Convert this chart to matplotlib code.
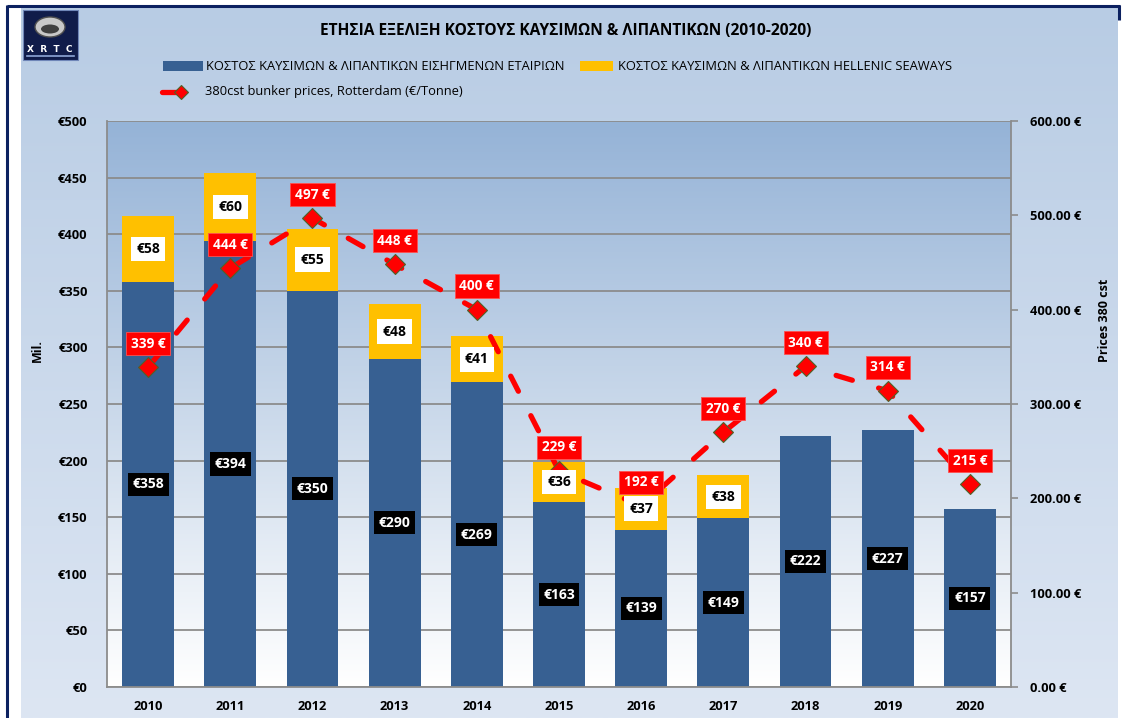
import matplotlib
matplotlib.use("Agg")
import matplotlib.pyplot as plt
import numpy as np
from matplotlib.patches import Rectangle, Ellipse
from matplotlib.lines import Line2D
from matplotlib.colors import LinearSegmentedColormap
from matplotlib.ticker import FuncFormatter, MultipleLocator

plt.rcParams["font.family"] = ["Open Sans", "DejaVu Sans"]

YEARS    = ["2010", "2011", "2012", "2013", "2014", "2015", "2016", "2017", "2018", "2019", "2020"]
LISTED   = [358, 394, 350, 290, 269, 163, 139, 149, 222, 227, 157]   # € mil., listed companies
HELLENIC = [58, 60, 55, 48, 41, 36, 37, 38, 0, 0, 0]                 # € mil., Hellenic Seaways
BUNKER   = [339, 444, 497, 448, 400, 229, 192, 270, 340, 314, 215]   # €/tonne, right axis

TITLE = "ΕΤΗΣΙΑ ΕΞΕΛΙΞΗ ΚΟΣΤΟΥΣ ΚΑΥΣΙΜΩΝ & ΛΙΠΑΝΤΙΚΩΝ (2010-2020)"
LEG_LISTED   = "ΚΟΣΤΟΣ ΚΑΥΣΙΜΩΝ & ΛΙΠΑΝΤΙΚΩΝ ΕΙΣΗΓΜΕΝΩΝ ΕΤΑΙΡΙΩΝ"
LEG_HELLENIC = "ΚΟΣΤΟΣ ΚΑΥΣΙΜΩΝ & ΛΙΠΑΝΤΙΚΩΝ HELLENIC SEAWAYS"
LEG_BUNKER   = "380cst bunker prices, Rotterdam (€/Tonne)"

BLUE   = "#376092"
YELLOW = "#ffc000"
RED    = "#ff0000"
GRID   = "#8c8c8c"
NAVY   = "#0c2160"

W, H = 1123, 718


def fx(x): return x / W
def fy(y): return 1 - y / H


fig = plt.figure(figsize=(W / 100, H / 100), dpi=100, facecolor="white")

# chart area background + frame
bg = fig.add_axes([0, 0, 1, 1], zorder=-3)
grad = np.linspace(0, 1, 256).reshape(-1, 1)
bg.imshow(grad, cmap=LinearSegmentedColormap.from_list("a", ["#b8cce4", "#dde6f3"]),
          extent=[21, 1118, 718, 8], aspect="auto")
bg.plot([7, 7], [5, 718], color=NAVY, lw=2.2, solid_capstyle="butt")
bg.plot([7, 1120], [6, 6], color=NAVY, lw=2.2, solid_capstyle="butt")
bg.plot([1119, 1119], [5, 20], color=NAVY, lw=2.2, solid_capstyle="butt")
# logo
bg.add_patch(Rectangle((23, 10), 55, 50, facecolor="#101c4a", edgecolor="#6f86b8", lw=0.8))
bg.add_patch(Ellipse((50, 27), 30, 20, facecolor="#c8c8c8", edgecolor="#505050", lw=1))
bg.add_patch(Ellipse((50, 29), 18, 9, facecolor="#404040", edgecolor="none"))
bg.text(50, 49, "X  R  T  C", color="white", fontsize=6.5, fontweight="bold",
        ha="center", va="center", family="DejaVu Sans")
bg.plot([27, 74], [56, 56], color="#8ea6d6", lw=1.2)
bg.set_xlim(0, W)
bg.set_ylim(H, 0)
bg.axis("off")

pos = [fx(107), fy(687), (1011 - 107) / W, (687 - 121) / H]

# plot area gradient
pbg = fig.add_axes(pos, zorder=-1)
pbg.imshow(grad, cmap=LinearSegmentedColormap.from_list("p", ["#95b3d7", "#c9d8ea", "#ffffff"]),
           extent=[0, 1, 0, 1], aspect="auto")
pbg.set_xlim(0, 1)
pbg.set_ylim(0, 1)
pbg.axis("off")

ax = fig.add_axes(pos, zorder=0)
ax.patch.set_visible(False)
x = np.arange(len(YEARS))
width = 0.63
ax.bar(x, LISTED, width=width, color=BLUE, zorder=2)
ax.bar(x, HELLENIC, width=width, bottom=LISTED, color=YELLOW, zorder=2)

ax.set_xlim(-0.5, len(YEARS) - 0.5)
ax.set_ylim(0, 500)
ax.yaxis.set_major_locator(MultipleLocator(50))
ax.yaxis.set_major_formatter(FuncFormatter(lambda v, p: f"€{v:.0f}"))
ax.set_xticks(x)
ax.set_xticklabels(YEARS)
ax.tick_params(axis="y", length=0, pad=14, labelsize=9.3)
ax.tick_params(axis="x", length=0, pad=9, labelsize=9.3)
for t in ax.get_xticklabels() + ax.get_yticklabels():
    t.set_fontweight("bold")
ax.grid(axis="y", color=GRID, lw=1.3, zorder=1)
ax.set_axisbelow(True)
for s in ("left", "right", "bottom"):
    ax.spines[s].set_color(GRID)
    ax.spines[s].set_linewidth(1.3)
ax.spines["top"].set_visible(False)

ax2 = ax.twinx()
ax2.plot(x, BUNKER, color=RED, lw=3.8, ls=(0, (3.2, 5.2)), dash_capstyle="round",
         marker="D", ms=10, mfc=RED, mec="#4f6228", mew=0.8, zorder=3)

# bar value labels sit above the price line
for i in range(len(YEARS)):
    ax2.text(x[i], LISTED[i] / 2, f"€{LISTED[i]}", transform=ax.transData,
             ha="center", va="center", color="white", fontsize=10, fontweight="bold",
             zorder=5, bbox=dict(facecolor="black", edgecolor="none", pad=3.3))
    if HELLENIC[i] > 0:
        ax2.text(x[i], LISTED[i] + HELLENIC[i] / 2, f"€{HELLENIC[i]}", transform=ax.transData,
                 ha="center", va="center", color="black", fontsize=10, fontweight="bold",
                 zorder=5, bbox=dict(facecolor="white", edgecolor="none", pad=3.8))

for i, v in enumerate(BUNKER):
    ax2.annotate(f"{v} €", (x[i], v), xytext=(0, 17), textcoords="offset points",
                 ha="center", va="center", color="white", fontsize=9.8, fontweight="bold",
                 zorder=6, bbox=dict(facecolor=RED, edgecolor="#ff5050", lw=0.6, pad=3.3))
ax2.set_ylim(0, 600)
ax2.yaxis.set_major_locator(MultipleLocator(100))
ax2.yaxis.set_major_formatter(FuncFormatter(lambda v, p: f"{v:.2f} €"))
ax2.tick_params(axis="y", length=5, width=1.2, color=GRID, pad=9, labelsize=9.3)
for t in ax2.get_yticklabels():
    t.set_fontweight("bold")
for s in ax2.spines.values():
    s.set_visible(False)

# axis titles
fig.text(fx(37), fy(350), "Mil.", rotation=90, ha="center", va="center",
         fontsize=9, fontweight="bold")
fig.text(fx(1105), fy(320), "Prices 380 cst", rotation=90, ha="center", va="center",
         fontsize=9, fontweight="bold")

# title
fig.text(fx(566), fy(31), TITLE, ha="center", va="center", fontsize=11.2, fontweight="bold")

# legend
fig.patches.append(Rectangle((fx(163), fy(71)), 40 / W, 10 / H, transform=fig.transFigure,
                             facecolor=BLUE, edgecolor="none"))
fig.text(fx(206), fy(66), LEG_LISTED, ha="left", va="center", fontsize=9.3)
fig.patches.append(Rectangle((fx(580), fy(71)), 33 / W, 10 / H, transform=fig.transFigure,
                             facecolor=YELLOW, edgecolor="none"))
fig.text(fx(618), fy(66), LEG_HELLENIC, ha="left", va="center", fontsize=9.3)
fig.lines.append(Line2D([fx(162), fx(182)], [fy(92), fy(92)], transform=fig.transFigure,
                        color=RED, lw=3.8, solid_capstyle="round"))
fig.lines.append(Line2D([fx(181)], [fy(92)], transform=fig.transFigure, marker="D", ms=7,
                        mfc=RED, mec="#4f6228", mew=0.8, ls="none"))
fig.text(fx(205), fy(92), LEG_BUNKER, ha="left", va="center", fontsize=9.3)

fig.savefig("out.png", dpi=100)
